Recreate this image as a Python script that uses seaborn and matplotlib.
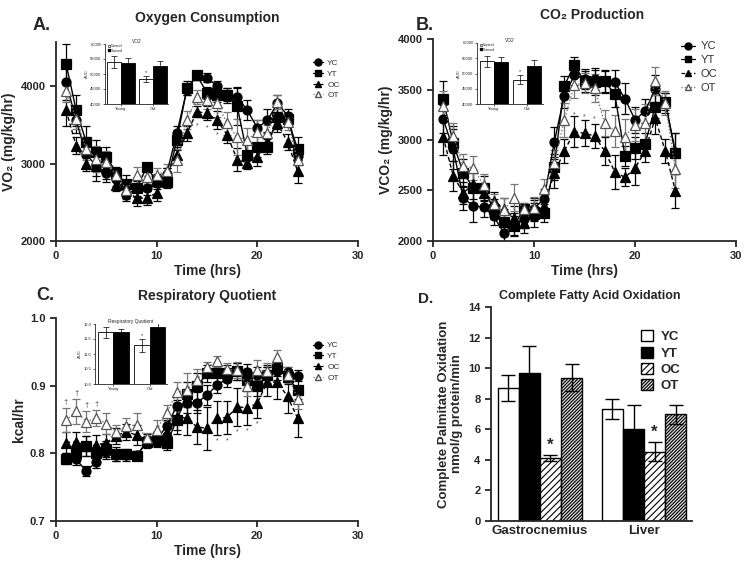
import numpy as np
import pandas as pd
import matplotlib
matplotlib.use("Agg")
import matplotlib.pyplot as plt
from matplotlib.lines import Line2D
from matplotlib.patches import Patch
import seaborn as sns

sns.set_style("ticks")
plt.rcParams['font.family'] = ['Liberation Sans', 'DejaVu Sans']
plt.rcParams['hatch.linewidth'] = 0.8

# ---------------- data ----------------
hours = list(range(1, 25))
groups = ["YC", "YT", "OC", "OT"]

vo2_YC = [4050, 3560, 3120, 2970, 2880, 2805, 2590, 2680, 2680, 2765, 2870, 3390,
          3950, 4140, 4110, 4000, 3890, 3860, 3690, 3460, 3560, 3780, 3620, 3100]
vo2_YT = [4290, 3690, 3280, 3150, 3090, 2880, 2730, 2680, 2950, 2780, 2760, 3300,
          3970, 4140, 3910, 3880, 3880, 3740, 3110, 3220, 3220, 3600, 3580, 3190]
vo2_OC = [3690, 3230, 3000, 2970, 2950, 2720, 2655, 2550, 2555, 2620, 2870, 3110,
          3390, 3670, 3650, 3560, 3370, 3050, 3010, 3090, 3280, 3520, 3280, 2900]
vo2_OT = [3940, 3580, 3190, 3060, 3020, 2850, 2660, 2850, 2830, 2850, 2910, 3040,
          3560, 3860, 3820, 3780, 3520, 3340, 3310, 3410, 3390, 3800, 3540, 3040]
vo2_YC_err = [230, 170, 150, 130, 120, 90, 70, 100, 80, 90, 70, 90, 70, 60, 60, 60, 80, 130, 130, 100, 150, 110, 80, 120]
vo2_YT_err = [260, 200, 200, 150, 120, 80, 120, 110, 60, 80, 80, 120, 90, 60, 80, 90, 100, 240, 140, 130, 100, 150, 70, 150]
vo2_OC_err = [200, 110, 100, 200, 150, 80, 100, 100, 90, 100, 70, 110, 100, 70, 90, 120, 100, 150, 80, 120, 120, 110, 100, 150]
vo2_OT_err = [150, 140, 150, 170, 140, 80, 120, 110, 120, 90, 90, 150, 120, 90, 120, 180, 150, 230, 150, 150, 110, 90, 110, 170]

vco2_YC = [3210, 2910, 2427, 2344, 2338, 2245, 2083, 2165, 2215, 2320, 2420, 2977,
           3437, 3642, 3606, 3606, 3580, 3570, 3410, 3200, 3285, 3505, 3370, 2877]
vco2_YT = [3407, 2967, 2675, 2526, 2526, 2315, 2192, 2146, 2320, 2288, 2278, 2735,
           3536, 3745, 3580, 3570, 3580, 3454, 2844, 2917, 2960, 3331, 3381, 2868]
vco2_OC = [3033, 2646, 2477, 2560, 2477, 2397, 2315, 2232, 2182, 2272, 2344, 2669,
           2890, 3083, 3066, 3040, 2890, 2685, 2630, 2719, 2894, 3215, 2890, 2497]
vco2_OT = [3338, 3040, 2745, 2725, 2553, 2364, 2305, 2430, 2320, 2331, 2510, 2768,
           3200, 3546, 3563, 3513, 3166, 3089, 3033, 3150, 3172, 3586, 3364, 2709]
vco2_YC_err = [140, 200, 120, 160, 100, 90, 100, 110, 90, 110, 90, 150, 120, 100, 100, 110, 100, 120, 150, 130, 120, 140, 100, 190]
vco2_YT_err = [180, 170, 140, 150, 120, 100, 120, 100, 60, 90, 90, 130, 100, 80, 100, 120, 110, 130, 100, 110, 110, 110, 80, 200]
vco2_OC_err = [180, 150, 110, 140, 80, 90, 110, 110, 100, 130, 90, 140, 120, 150, 130, 120, 140, 170, 90, 160, 110, 160, 120, 170]
vco2_OT_err = [150, 130, 120, 120, 110, 100, 120, 130, 60, 100, 100, 130, 170, 130, 100, 140, 130, 160, 170, 160, 180, 140, 120, 180]

rq_YC = [0.792, 0.791, 0.774, 0.787, 0.802, 0.797, 0.797, 0.797, 0.816, 0.821, 0.840, 0.870,
         0.875, 0.875, 0.886, 0.901, 0.910, 0.921, 0.920, 0.916, 0.916, 0.921, 0.920, 0.915]
rq_YT = [0.792, 0.800, 0.811, 0.800, 0.806, 0.799, 0.799, 0.796, 0.817, 0.820, 0.815, 0.849,
         0.887, 0.899, 0.918, 0.918, 0.918, 0.921, 0.909, 0.900, 0.916, 0.926, 0.913, 0.894]
rq_OC = [0.816, 0.817, 0.811, 0.812, 0.816, 0.826, 0.832, 0.827, 0.820, 0.822, 0.832, 0.854,
         0.852, 0.839, 0.837, 0.852, 0.853, 0.869, 0.867, 0.874, 0.906, 0.905, 0.884, 0.852]
rq_OT = [0.849, 0.862, 0.847, 0.852, 0.844, 0.832, 0.840, 0.842, 0.822, 0.835, 0.860, 0.890,
         0.894, 0.909, 0.927, 0.936, 0.924, 0.923, 0.900, 0.923, 0.921, 0.943, 0.916, 0.881]
rq_YC_err = [0.006, 0.008, 0.008, 0.008, 0.010, 0.008, 0.008, 0.006, 0.008, 0.010, 0.010, 0.015,
             0.015, 0.015, 0.015, 0.012, 0.012, 0.012, 0.012, 0.012, 0.012, 0.012, 0.008, 0.008]
rq_YT_err = [0.008, 0.010, 0.015, 0.010, 0.012, 0.010, 0.008, 0.006, 0.008, 0.010, 0.010, 0.015,
             0.018, 0.020, 0.012, 0.012, 0.012, 0.012, 0.015, 0.015, 0.015, 0.012, 0.010, 0.020]
rq_OC_err = [0.015, 0.015, 0.015, 0.015, 0.012, 0.012, 0.012, 0.015, 0.008, 0.010, 0.012, 0.025,
             0.025, 0.025, 0.032, 0.025, 0.025, 0.028, 0.025, 0.022, 0.022, 0.025, 0.025, 0.028]
rq_OT_err = [0.018, 0.018, 0.015, 0.012, 0.015, 0.010, 0.012, 0.018, 0.008, 0.015, 0.012, 0.015,
             0.025, 0.015, 0.008, 0.008, 0.010, 0.012, 0.015, 0.015, 0.012, 0.010, 0.012, 0.015]

# insets (AUC)
inset_ages = ["Young", "Old"]
inset_trt = ["Control", "Trained"]
vo2_auc = [54000, 53700, 48300, 52600]
vo2_auc_err = [1900, 1800, 1100, 1800]
vco2_auc = [54000, 53700, 47900, 52600]
vco2_auc_err = [1900, 1800, 1500, 1800]
rq_auc = [11.72, 11.72, 11.29, 11.89]
rq_auc_err = [0.18, 0.12, 0.22, 0.18]

# panel D
tissues = ["Gastrocnemius", "Liver"]
fao_YC = [8.7, 7.35]
fao_YT = [9.7, 6.04]
fao_OC = [4.14, 4.54]
fao_OT = [9.38, 6.98]
fao_YC_err = [0.82, 0.65]
fao_YT_err = [1.78, 1.57]
fao_OC_err = [0.2, 0.62]
fao_OT_err = [0.9, 0.63]

# ---------------- styles ----------------
styles = {
    "YC": dict(marker="o", mfc="black", mec="black", ls="-", lc="black"),
    "YT": dict(marker="s", mfc="black", mec="black", ls="-", lc="black"),
    "OC": dict(marker="^", mfc="black", mec="black", ls=(0, (3, 2)), lc="black"),
    "OT": dict(marker="^", mfc="white", mec="#555555", ls=(0, (1, 1.5)), lc="#777777"),
}

BOLD = dict(fontweight="bold")

fig = plt.figure(figsize=(7.54, 5.63), dpi=100)


def px_axes(x0, y0, x1, y1):
    W, H = 754, 563
    return fig.add_axes([x0 / W, 1 - y1 / H, (x1 - x0) / W, (y1 - y0) / H])


def style_main(ax):
    sns.despine(ax=ax)
    for s in ["left", "bottom"]:
        ax.spines[s].set_linewidth(1.3)
    ax.tick_params(direction="out", width=1.3, length=4, labelsize=8)
    for lab in ax.get_xticklabels() + ax.get_yticklabels():
        lab.set_fontweight("bold")


def time_panel(ax, series, errs, ylim, yticks, ylabel, legend_fs, legend_pos):
    for g in groups:
        st = styles[g]
        df = pd.DataFrame({"time": hours, "value": series[g]})
        ax.errorbar(hours, series[g], yerr=errs[g], fmt="none", ecolor=st["lc"],
                    elinewidth=0.9, capsize=3, capthick=0.9, zorder=2)
        sns.lineplot(data=df, x="time", y="value", ax=ax, color=st["lc"],
                     linestyle=st["ls"], linewidth=1.0, marker=st["marker"],
                     markersize=6.5, markerfacecolor=st["mfc"],
                     markeredgecolor=st["mec"], markeredgewidth=0.9, zorder=3)
    ax.set_xlim(0, 30)
    ax.set_xticks([0, 10, 20, 30])
    ax.set_ylim(*ylim)
    ax.set_yticks(yticks)
    ax.set_xlabel("Time (hrs)", fontsize=10, labelpad=2, **BOLD)
    ax.set_ylabel(ylabel, fontsize=10, labelpad=3, **BOLD)
    style_main(ax)
    handles = [Line2D([0], [0], color=styles[g]["lc"], ls=styles[g]["ls"], lw=0.9,
                      marker=styles[g]["marker"], mfc=styles[g]["mfc"],
                      mec=styles[g]["mec"], ms=5) for g in groups]
    leg = ax.legend(handles, groups, loc="upper left", bbox_to_anchor=legend_pos,
                    frameon=False, fontsize=legend_fs, handlelength=1.2,
                    handletextpad=0.5, labelspacing=0.35, borderaxespad=0)
    for t in leg.get_texts():
        t.set_color("#333333")


def inset_panel(ax, vals, errs, ylim, yticks, title, show_legend, star_y):
    df = pd.DataFrame({"age": [a for a in inset_ages for _ in inset_trt],
                       "trt": inset_trt * 2, "val": vals})
    sns.barplot(data=df, x="age", y="val", hue="trt", ax=ax,
                palette={"Control": "white", "Trained": "black"},
                edgecolor="black", linewidth=0.6, width=0.85, legend=False)
    xs = []
    for patch in ax.patches:
        xs.append(patch.get_x() + patch.get_width() / 2)
    xs = sorted(xs)
    ax.errorbar(xs, vals, yerr=errs, fmt="none", ecolor="black",
                elinewidth=0.5, capsize=2, capthick=0.5)
    ax.set_ylim(*ylim)
    ax.set_yticks(yticks)
    ax.set_xlim(-0.5, 1.47)
    ax.set_xlabel("")
    ax.set_ylabel("AUC", fontsize=3, labelpad=1)
    ax.set_title(title, fontsize=3.5, pad=1)
    sns.despine(ax=ax)
    ax.spines["left"].set_linewidth(0.6)
    ax.spines["bottom"].set_linewidth(0.6)
    ax.tick_params(labelsize=3, width=0.5, length=1.5, pad=1)
    ax.text(xs[2], star_y, "*", fontsize=4, ha="center", va="bottom")
    if show_legend:
        h = [Line2D([0], [0], ls="none", marker="s", mfc="white", mec="black", ms=1.5, mew=0.4),
             Line2D([0], [0], ls="none", marker="s", mfc="black", mec="black", ms=1.5)]
        ax.legend(h, inset_trt, loc="upper left", bbox_to_anchor=(0.02, 1.02),
                  frameon=False, fontsize=2.6, handlelength=0.6, handletextpad=0.3,
                  labelspacing=0.1, borderaxespad=0)


# ---------------- Panel A ----------------
axA = px_axes(56, 42, 358, 241)
time_panel(axA, {"YC": vo2_YC, "YT": vo2_YT, "OC": vo2_OC, "OT": vo2_OT},
           {"YC": vo2_YC_err, "YT": vo2_YT_err, "OC": vo2_OC_err, "OT": vo2_OT_err},
           (2000, 4570), [2000, 3000, 4000], "VO₂ (mg/kg/hr)", 6, (0.84, 0.93))
for t in [14, 15, 16]:
    axA.text(t, vo2_OC[t - 1] - 140, "*", fontsize=5, ha="center", va="top", color="#444444")
insA = px_axes(105, 44, 168, 104)
inset_panel(insA, vo2_auc, vo2_auc_err, (40000, 60000), [40000, 45000, 50000, 55000, 60000],
            "VO2", True, vo2_auc[2] + vo2_auc_err[2] + 300)

# ---------------- Panel B ----------------
axB = px_axes(433, 39, 736, 241)
time_panel(axB, {"YC": vco2_YC, "YT": vco2_YT, "OC": vco2_OC, "OT": vco2_OT},
           {"YC": vco2_YC_err, "YT": vco2_YT_err, "OC": vco2_OC_err, "OT": vco2_OT_err},
           (2000, 4000), [2000, 2500, 3000, 3500, 4000], "VCO₂ (mg/kg/hr)", 8, (0.805, 1.01))
for t in [14, 15, 16]:
    axB.text(t, vco2_OC[t - 1] + 130, "*", fontsize=5, ha="center", va="bottom", color="#444444")
insB = px_axes(477, 43, 543, 104)
inset_panel(insB, vco2_auc, vco2_auc_err, (40000, 60000), [40000, 45000, 50000, 55000, 60000],
            "VO2", True, vco2_auc[2] + vco2_auc_err[2] + 300)

# ---------------- Panel C ----------------
axC = px_axes(56, 318, 358, 521)
time_panel(axC, {"YC": rq_YC, "YT": rq_YT, "OC": rq_OC, "OT": rq_OT},
           {"YC": rq_YC_err, "YT": rq_YT_err, "OC": rq_OC_err, "OT": rq_OT_err},
           (0.7, 1.0), [0.7, 0.8, 0.9, 1.0], "kcal/hr", 6, (0.84, 0.9))
for t in [1, 2, 3, 4]:
    axC.text(t, rq_OT[t - 1] + rq_OT_err[t - 1] + 0.003, "†", fontsize=5.5,
             ha="center", va="bottom", color="#444444")
for t in [16, 17, 18, 19, 20]:
    axC.text(t, rq_OC[t - 1] - rq_OC_err[t - 1] - 0.004, "*", fontsize=5,
             ha="center", va="top", color="#444444")
insC = px_axes(95, 324, 167, 384)
inset_panel(insC, rq_auc, rq_auc_err, (10.0, 12.0), [10.0, 10.5, 11.0, 11.5, 12.0],
            "Respiratory Quotient", False, rq_auc[2] + rq_auc_err[2] + 0.03)
insC.set_yticklabels(["10.0", "10.5", "11.0", "11.5", "12.0"])

# ---------------- Panel D ----------------
axD = px_axes(491, 307, 692, 521)
dfD = pd.DataFrame({
    "tissue": tissues * 4,
    "group": [g for g in groups for _ in tissues],
    "val": fao_YC + fao_YT + fao_OC + fao_OT,
})
errD = fao_YC_err + fao_YT_err + fao_OC_err + fao_OT_err
sns.barplot(data=dfD, x="tissue", y="val", hue="group", ax=axD,
            palette={"YC": "white", "YT": "black", "OC": "white", "OT": "#d9d9d9"},
            edgecolor="black", linewidth=1.0, width=0.81, legend=False)
hatch_map = {"YC": "", "YT": "", "OC": "/////", "OT": "//////////"}
bars = axD.patches
for i, p in enumerate(bars):
    g = groups[i // 2]
    p.set_hatch(hatch_map[g])
    xc = p.get_x() + p.get_width() / 2
    v = dfD["val"][i]
    axD.errorbar([xc], [v], yerr=[errD[i]], fmt="none", ecolor="black",
                 elinewidth=1.0, capsize=5, capthick=1.0)
    if g == "OC":
        axD.text(xc, v + errD[i] + 0.15, "*", fontsize=12, ha="center", va="bottom", **BOLD)
axD.set_ylim(0, 14)
axD.set_yticks(range(0, 15, 2))
axD.set_xlim(-0.47, 1.46)
axD.set_xlabel("")
axD.set_ylabel("Complete Palmitate Oxidation\nnmol/g protein/min", fontsize=9.5,
               labelpad=4, linespacing=1.1, **BOLD)
style_main(axD)
axD.tick_params(axis="x", length=0, labelsize=9.5, pad=3)
for lab in axD.get_xticklabels():
    lab.set_fontweight("bold")
legD = [Patch(facecolor="white", edgecolor="black", label="YC"),
        Patch(facecolor="black", edgecolor="black", label="YT"),
        Patch(facecolor="white", edgecolor="black", hatch="/////", label="OC"),
        Patch(facecolor="#d9d9d9", edgecolor="black", hatch="//////////", label="OT")]
lg = axD.legend(handles=legD, loc="upper left", bbox_to_anchor=(0.72, 0.915), frameon=False,
                fontsize=9.5, handlelength=0.9, handleheight=0.9, handletextpad=0.6,
                labelspacing=0.25, borderaxespad=0)
for t in lg.get_texts():
    t.set_fontweight("bold")

# ---------------- titles / panel letters ----------------
fig.text(207 / 754, 1 - 18 / 563, "Oxygen Consumption", ha="center", va="center", fontsize=10, **BOLD)
fig.text(592 / 754, 1 - 15 / 563, "CO₂ Production", ha="center", va="center", fontsize=10, **BOLD)
fig.text(207 / 754, 1 - 296 / 563, "Respiratory Quotient", ha="center", va="center", fontsize=10, **BOLD)
fig.text(590 / 754, 1 - 296 / 563, "Complete Fatty Acid Oxidation", ha="center", va="center", fontsize=9, **BOLD)
fig.text(33 / 754, 1 - 25 / 563, "A.", ha="left", va="center", fontsize=13, **BOLD)
fig.text(416 / 754, 1 - 25 / 563, "B.", ha="left", va="center", fontsize=13, **BOLD)
fig.text(36 / 754, 1 - 295 / 563, "C.", ha="left", va="center", fontsize=13, **BOLD)
fig.text(418 / 754, 1 - 299 / 563, "D.", ha="left", va="center", fontsize=11, **BOLD)

fig.savefig("out.png", dpi=100)
